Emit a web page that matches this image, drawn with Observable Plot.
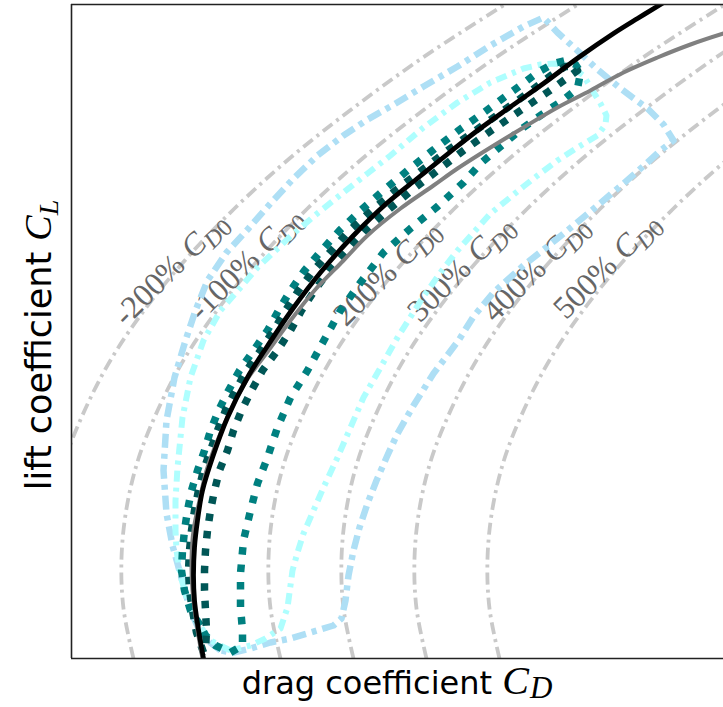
<!DOCTYPE html>
<html>
<head>
<meta charset="utf-8">
<script src="https://cdn.jsdelivr.net/npm/d3@7"></script>
<script src="https://cdn.jsdelivr.net/npm/@observablehq/plot@0.6"></script>
<style>
  body { margin: 0; background: #fff; }
  svg { display: block; }
</style>
</head>
<body>
<div id="chart"></div>
<script>
// Lift coefficient levels at which the shifted reference polars are tabulated
const liftLevels = [0, 0.1, 0.2, 0.3, 0.4, 0.5, 0.6, 0.7, 0.8, 0.9, 1.0, 1.1, 1.2, 1.3, 1.32];

// Drag coefficient of each reference polar (zero-lift drag shifted by a share of CD0)
const dragMinus200 = [0.0060, 0.0050, 0.0048, 0.0053, 0.0065, 0.0085, 0.0111, 0.0145, 0.0186, 0.0234, 0.0289, 0.0352, 0.0421, 0.0498, 0.0514];
const dragMinus100 = [0.0133, 0.0123, 0.0121, 0.0126, 0.0138, 0.0158, 0.0184, 0.0218, 0.0259, 0.0307, 0.0362, 0.0425, 0.0494, 0.0571, 0.0587];
const drag200 = [0.0280, 0.0270, 0.0268, 0.0273, 0.0285, 0.0305, 0.0331, 0.0365, 0.0406, 0.0454, 0.0509, 0.0572, 0.0641, 0.0718, 0.0734];
const drag300 = [0.0353, 0.0343, 0.0341, 0.0346, 0.0358, 0.0378, 0.0404, 0.0438, 0.0479, 0.0527, 0.0582, 0.0645, 0.0714, 0.0791, 0.0807];
const drag400 = [0.0426, 0.0416, 0.0414, 0.0419, 0.0431, 0.0451, 0.0477, 0.0511, 0.0552, 0.0600, 0.0655, 0.0718, 0.0787, 0.0864, 0.0880];
const drag500 = [0.0499, 0.0489, 0.0487, 0.0492, 0.0504, 0.0524, 0.0550, 0.0584, 0.0625, 0.0673, 0.0728, 0.0791, 0.0860, 0.0937, 0.0953];

// Labels of the reference polars and where they sit
const shiftLabels = ["-200%", "-100%", "200%", "300%", "400%", "500%"];
const labelDrag = [0.0170, 0.0245, 0.0386, 0.0460, 0.0535, 0.0606];
const labelLift = [0.780, 0.790, 0.772, 0.780, 0.780, 0.786];

// Baseline drag polar
const baselineDrag = [0.0203, 0.0197, 0.0194, 0.0193, 0.0194, 0.0197, 0.0202, 0.0212, 0.0227, 0.0247, 0.0266, 0.0291, 0.0320, 0.0353, 0.0386, 0.0418, 0.0449, 0.0477, 0.0509, 0.0543, 0.0578, 0.0613, 0.0637, 0.0660, 0.0670];
const baselineLift = [0, 0.070, 0.116, 0.166, 0.222, 0.276, 0.336, 0.402, 0.482, 0.562, 0.622, 0.696, 0.772, 0.846, 0.910, 0.962, 1.012, 1.056, 1.102, 1.150, 1.202, 1.250, 1.280, 1.308, 1.320];

// Second polar (flattens at high lift)
const measuredDrag = [0.0202, 0.0196, 0.0192, 0.0191, 0.0193, 0.0199, 0.0206, 0.0217, 0.0230, 0.0246, 0.0268, 0.0290, 0.0314, 0.0343, 0.0367, 0.0400, 0.0433, 0.0457, 0.0490, 0.0523, 0.0557, 0.0590, 0.0623, 0.0657, 0.0690, 0.0723, 0.0740];
const measuredLift = [0, 0.070, 0.136, 0.196, 0.256, 0.316, 0.376, 0.436, 0.496, 0.556, 0.616, 0.676, 0.736, 0.796, 0.846, 0.900, 0.946, 0.980, 1.022, 1.062, 1.102, 1.136, 1.172, 1.202, 1.228, 1.250, 1.260];

// Envelopes of the polar families, as closed [CD, CL] outlines
const envelopeSky = [[0.0220,0.016],[0.0207,0.036],[0.0198,0.060],[0.0190,0.096],[0.0183,0.146],[0.0177,0.190],[0.0172,0.226],[0.0166,0.290],[0.0163,0.376],[0.0166,0.476],[0.0174,0.562],[0.0185,0.636],[0.0195,0.696],[0.0207,0.756],[0.0226,0.812],[0.0248,0.860],[0.0270,0.910],[0.0293,0.960],[0.0317,1.006],[0.0343,1.046],[0.0367,1.078],[0.0390,1.104],[0.0423,1.144],[0.0457,1.184],[0.0490,1.226],[0.0523,1.264],[0.0543,1.282],[0.0557,1.252],[0.0580,1.210],[0.0597,1.178],[0.0620,1.140],[0.0647,1.100],[0.0663,1.068],[0.0673,1.036],[0.0660,1.016],[0.0647,0.992],[0.0623,0.950],[0.0590,0.894],[0.0557,0.840],[0.0523,0.786],[0.0493,0.732],[0.0473,0.684],[0.0458,0.636],[0.0433,0.570],[0.0413,0.506],[0.0397,0.450],[0.0386,0.402],[0.0376,0.356],[0.0367,0.310],[0.0359,0.262],[0.0353,0.216],[0.0348,0.166],[0.0345,0.116],[0.0341,0.080],[0.0333,0.066],[0.0310,0.052],[0.0290,0.040],[0.0270,0.032],[0.0250,0.020],[0.0233,0.012],[0.0220,0.016]];

const envelopeCyan = [[0.0230,0.016],[0.0210,0.036],[0.0197,0.072],[0.0187,0.116],[0.0180,0.166],[0.0176,0.216],[0.0175,0.256],[0.0175,0.316],[0.0177,0.382],[0.0182,0.482],[0.0190,0.562],[0.0203,0.636],[0.0220,0.696],[0.0240,0.742],[0.0257,0.782],[0.0275,0.816],[0.0293,0.850],[0.0318,0.892],[0.0343,0.932],[0.0367,0.970],[0.0390,1.006],[0.0423,1.062],[0.0457,1.112],[0.0490,1.152],[0.0523,1.180],[0.0540,1.188],[0.0555,1.190],[0.0570,1.184],[0.0583,1.166],[0.0592,1.136],[0.0600,1.110],[0.0606,1.086],[0.0605,1.068],[0.0597,1.046],[0.0577,1.022],[0.0557,0.996],[0.0537,0.966],[0.0523,0.944],[0.0490,0.890],[0.0457,0.816],[0.0440,0.772],[0.0423,0.724],[0.0397,0.642],[0.0380,0.582],[0.0363,0.522],[0.0350,0.462],[0.0337,0.402],[0.0323,0.342],[0.0313,0.296],[0.0303,0.250],[0.0297,0.212],[0.0292,0.176],[0.0287,0.102],[0.0280,0.060],[0.0265,0.040],[0.0250,0.026],[0.0230,0.016]];

const envelopeTeal = [[0.0200,0.066],[0.0190,0.096],[0.0184,0.136],[0.0181,0.176],[0.0182,0.216],[0.0184,0.256],[0.0187,0.296],[0.0191,0.336],[0.0197,0.376],[0.0204,0.416],[0.0210,0.456],[0.0218,0.496],[0.0228,0.536],[0.0239,0.576],[0.0253,0.616],[0.0267,0.656],[0.0278,0.696],[0.0290,0.736],[0.0304,0.776],[0.0321,0.816],[0.0339,0.856],[0.0360,0.896],[0.0383,0.936],[0.0407,0.976],[0.0432,1.016],[0.0458,1.056],[0.0486,1.096],[0.0513,1.136],[0.0537,1.172],[0.0553,1.190],[0.0565,1.196],[0.0575,1.188],[0.0580,1.172],[0.0577,1.140],[0.0562,1.116],[0.0547,1.096],[0.0523,1.062],[0.0500,1.024],[0.0480,0.990],[0.0463,0.952],[0.0437,0.904],[0.0410,0.860],[0.0383,0.812],[0.0360,0.752],[0.0340,0.696],[0.0325,0.642],[0.0307,0.576],[0.0290,0.522],[0.0277,0.462],[0.0267,0.402],[0.0257,0.350],[0.0250,0.296],[0.0243,0.236],[0.0240,0.170],[0.0240,0.102],[0.0242,0.056],[0.0242,0.026],[0.0230,0.012],[0.0215,0.026],[0.0205,0.046],[0.0200,0.066]];

const envelopeDeep = [[0.0203,0.012],[0.0196,0.052],[0.0192,0.096],[0.0189,0.136],[0.0188,0.176],[0.0189,0.216],[0.0191,0.256],[0.0194,0.296],[0.0198,0.336],[0.0203,0.376],[0.0210,0.416],[0.0217,0.456],[0.0225,0.496],[0.0235,0.536],[0.0246,0.576],[0.0260,0.616],[0.0273,0.656],[0.0285,0.696],[0.0298,0.736],[0.0313,0.776],[0.0331,0.816],[0.0349,0.856],[0.0371,0.896],[0.0395,0.936],[0.0421,0.976],[0.0447,1.016],[0.0475,1.056],[0.0503,1.096],[0.0531,1.136],[0.0553,1.170],[0.0565,1.184],[0.0574,1.184],[0.0577,1.176],[0.0566,1.160],[0.0548,1.134],[0.0520,1.096],[0.0491,1.056],[0.0463,1.016],[0.0437,0.976],[0.0411,0.936],[0.0387,0.896],[0.0365,0.856],[0.0347,0.816],[0.0329,0.776],[0.0314,0.736],[0.0301,0.696],[0.0290,0.656],[0.0277,0.616],[0.0262,0.576],[0.0251,0.536],[0.0241,0.496],[0.0233,0.456],[0.0227,0.416],[0.0219,0.376],[0.0214,0.336],[0.0210,0.296],[0.0207,0.256],[0.0205,0.216],[0.0204,0.176],[0.0204,0.136],[0.0205,0.096],[0.0206,0.056],[0.0205,0.016],[0.0203,0.012]];

const dragDomain = [0.0071, 0.0723];
const liftDomain = [0, 1.308];

const zip = (xs, ys) => xs.map((x, i) => [x, ys[i]]);
const referencePolars = [dragMinus200, dragMinus100, drag200, drag300, drag400, drag500].map((d) => zip(d, liftLevels));
const labelRows = shiftLabels.map((s, i) => ({cd: labelDrag[i], cl: labelLift[i], text: `${s} CD0`}));

const W = 723, H = 707, mL = 71, mR = 0, mT = 4, mB = 49;

const dotted = {strokeWidth: 7.5, strokeDasharray: "7.5,10", strokeLinecap: "butt", clip: true};

const svg = Plot.plot({
  width: W,
  height: H,
  marginLeft: mL,
  marginRight: mR,
  marginTop: mT,
  marginBottom: mB,
  x: {domain: dragDomain, axis: null},
  y: {domain: liftDomain, axis: null},
  marks: [
    ...referencePolars.map((p) => Plot.line(p, {
      stroke: "#c9c9c9", strokeWidth: 3.8, strokeDasharray: "12,5,3,5",
      strokeLinecap: "butt", curve: "catmull-rom", clip: true
    })),
    Plot.text(labelRows, {
      x: "cd", y: "cl", text: "text", rotate: -45,
      fontSize: 32, fontFamily: "Liberation Serif", fill: "#666666"
    }),
    Plot.line(envelopeSky, {stroke: "#aedff5", strokeWidth: 6.5, strokeDasharray: "14,6,5,6", strokeLinecap: "butt", clip: true}),
    Plot.line(envelopeCyan, {stroke: "#aefefe", strokeWidth: 6, strokeDasharray: "11,6,4,6", strokeLinecap: "butt", clip: true}),
    Plot.line(envelopeTeal, {stroke: "#008080", ...dotted}),
    Plot.line(envelopeDeep, {stroke: "#005656", ...dotted}),
    Plot.line(zip(measuredDrag, measuredLift), {stroke: "#808080", strokeWidth: 4, curve: "catmull-rom", clip: true}),
    Plot.line(zip(baselineDrag, baselineLift), {stroke: "#000000", strokeWidth: 4.8, curve: "catmull-rom", clip: true}),
    Plot.ruleX([dragDomain[0]], {stroke: "#222", strokeWidth: 1.6}),
    Plot.ruleY(liftDomain, {stroke: "#222", strokeWidth: 1.6})
  ]
});

// Math-style labels: italic C with a D0 subscript
d3.select(svg).selectAll("text")
  .filter(function () { return / CD0$/.test(this.textContent); })
  .each(function () {
    const t = d3.select(this);
    const pct = this.textContent.split(" ")[0];
    t.text(null);
    t.append("tspan").text(pct);
    t.append("tspan").attr("dx", "0.3em").attr("font-style", "italic").text("C");
    const sub = t.append("tspan").attr("font-size", "0.75em").attr("dy", "0.28em");
    sub.append("tspan").attr("font-style", "italic").text("D");
    sub.append("tspan").text("0");
  });

// Axis titles
const root = d3.select(svg);
const xTitle = root.append("text")
  .attr("x", (mL + W - mR) / 2).attr("y", H - 13)
  .attr("text-anchor", "middle")
  .attr("font-family", "DejaVu Sans").attr("font-size", 32).attr("fill", "#000");
xTitle.append("tspan").text("drag coefficient ");
xTitle.append("tspan").attr("font-family", "Liberation Serif").attr("font-style", "italic")
  .attr("font-size", 40).text("C");
xTitle.append("tspan").attr("font-family", "Liberation Serif").attr("font-style", "italic")
  .attr("font-size", 31).attr("dx", 1).attr("dy", 4).text("D");

const yTitle = root.append("text")
  .attr("transform", `translate(51, ${(mT + H - mB) / 2 + 14}) rotate(-90)`)
  .attr("text-anchor", "middle")
  .attr("font-family", "DejaVu Sans").attr("font-size", 35).attr("fill", "#000");
yTitle.append("tspan").text("lift coefficient ");
yTitle.append("tspan").attr("font-family", "Liberation Serif").attr("font-style", "italic")
  .attr("font-size", 38).text("C");
yTitle.append("tspan").attr("font-family", "Liberation Serif").attr("font-style", "italic")
  .attr("font-size", 28).attr("dy", 7).text("L");

document.getElementById("chart").appendChild(svg);
</script>
</body>
</html>
